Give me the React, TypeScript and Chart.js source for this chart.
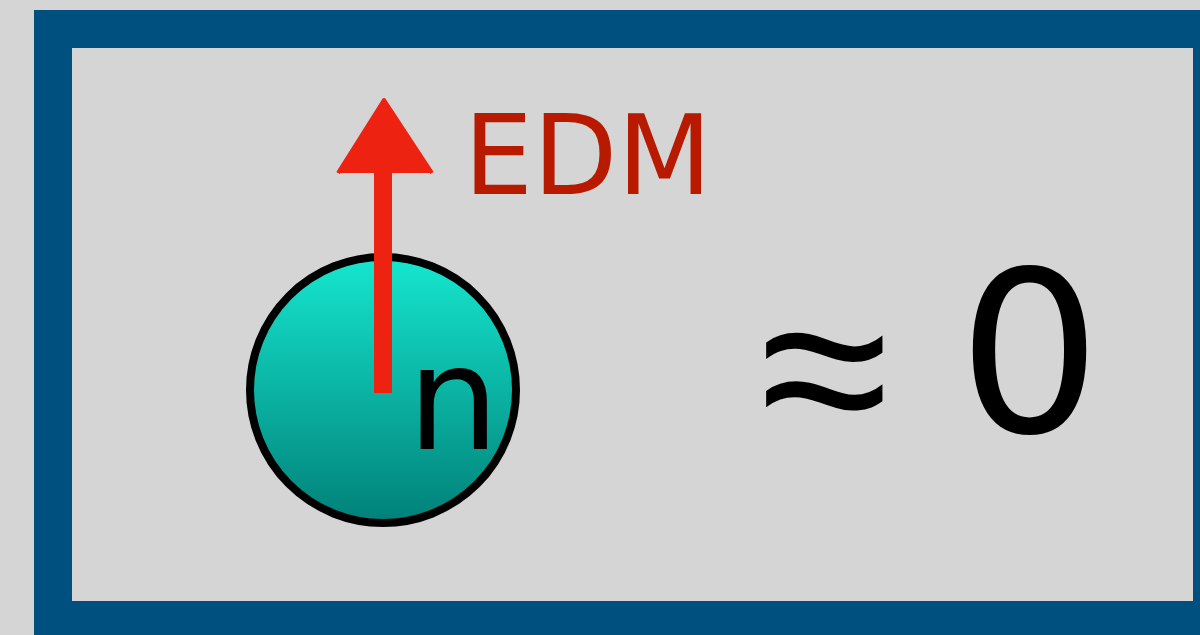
import React, { useEffect, useRef } from "react";
import { Chart, registerables } from "chart.js";

Chart.register(...registerables);

// Frame (rough blue rectangle), in canvas units (x right, y down)
const frameX = [600, 1212, 1212, 53, 53, 600];
const frameY = [29, 29, 620, 620, 29, 29];

// Neutron sphere
const sphereX = [383];
const sphereY = [390];

// EDM arrow shaft and head
const shaftX = [383, 383];
const shaftY = [393, 166];
const headX = [338, 384, 432];
const headY = [173, 100, 173];

// Text labels (ink-box centres and ink heights)
const labelTexts = ["EDM", "n", "≈", "0"];
const labelX = [587.5, 454, 824, 1029.5];
const labelY = [153, 408.5, 371, 349.5];
const labelH = [80, 81, 80, 171];

const BG = "#d5d5d5";

export default function App() {
  const ref = useRef<HTMLCanvasElement | null>(null);

  useEffect(() => {
    document.body.style.margin = "0";
    const canvas = ref.current;
    if (!canvas) return;

    const labelStyles = [
      { family: "'DejaVu Sans'", color: "#b81a00" },
      { family: "'DejaVu Sans'", color: "#000000" },
      { family: "'Liberation Sans'", color: "#000000" },
      { family: "'DejaVu Sans'", color: "#000000" },
    ];

    const textPlugin = {
      id: "labels",
      afterDatasetsDraw(chart: any) {
        const { ctx, scales } = chart;
        ctx.save();
        ctx.textAlign = "left";
        ctx.textBaseline = "alphabetic";
        labelTexts.forEach((t, i) => {
          const st = labelStyles[i];
          ctx.font = `100px ${st.family}`;
          let m = ctx.measureText(t);
          const h0 = m.actualBoundingBoxAscent + m.actualBoundingBoxDescent;
          const y0 = scales.y.getPixelForValue(labelY[i] - labelH[i] / 2);
          const y1 = scales.y.getPixelForValue(labelY[i] + labelH[i] / 2);
          const size = (100 * Math.abs(y1 - y0)) / (h0 || 1);
          ctx.font = `${size}px ${st.family}`;
          m = ctx.measureText(t);
          const cx = scales.x.getPixelForValue(labelX[i]);
          const cy = scales.y.getPixelForValue(labelY[i]);
          const x = cx - (m.actualBoundingBoxRight - m.actualBoundingBoxLeft) / 2;
          const y = cy + (m.actualBoundingBoxAscent - m.actualBoundingBoxDescent) / 2;
          ctx.fillStyle = st.color;
          ctx.fillText(t, x, y);
        });
        ctx.restore();
      },
    };

    const bgPlugin = {
      id: "bg",
      beforeDraw(chart: any) {
        const { ctx, width, height } = chart;
        ctx.save();
        ctx.fillStyle = BG;
        ctx.fillRect(0, 0, width, height);
        ctx.restore();
      },
    };

    const sphereFill = (c: any) => {
      const chart = c.chart;
      const area = chart.chartArea;
      if (!area) return "#0bb5a5";
      const toPx = (v: number) => area.top + (v / 635) * (area.bottom - area.top);
      const top = toPx(sphereY[0] - 137);
      const bot = toPx(sphereY[0] + 137);
      if (!isFinite(top) || !isFinite(bot)) return "#0bb5a5";
      const g = chart.ctx.createLinearGradient(0, top, 0, bot);
      g.addColorStop(0, "#16e8d0");
      g.addColorStop(1, "#007f77");
      return g;
    };

    const chart = new Chart(canvas, {
      type: "scatter",
      data: {
        datasets: [
          {
            data: frameX.map((x, i) => ({ x, y: frameY[i] })),
            showLine: true,
            borderColor: "#00507f",
            borderWidth: 38,
            borderJoinStyle: "miter",
            pointRadius: 0,
            fill: false,
            clip: false,
            order: 5,
          } as any,
          {
            data: sphereX.map((x, i) => ({ x, y: sphereY[i] })),
            pointRadius: 133,
            pointBorderWidth: 8,
            pointBorderColor: "#000000",
            pointBackgroundColor: sphereFill,
            borderColor: "#000000",
            clip: false,
            order: 2,
          } as any,
          {
            data: shaftX.map((x, i) => ({ x, y: shaftY[i] })),
            showLine: true,
            borderColor: "#ee2211",
            borderWidth: 18,
            borderCapStyle: "butt",
            pointRadius: 0,
            fill: false,
            clip: false,
            order: 1,
          } as any,
          {
            data: headX.map((x, i) => ({ x, y: headY[i] })),
            showLine: true,
            borderColor: "#ee2211",
            backgroundColor: "#ee2211",
            borderWidth: 4,
            borderJoinStyle: "round",
            pointRadius: 0,
            fill: { value: headY[0] },
            clip: false,
            order: 0,
          } as any,
        ],
      },
      options: {
        animation: false,
        responsive: true,
        maintainAspectRatio: false,
        events: [],
        layout: { padding: 0, autoPadding: false },
        plugins: { legend: { display: false }, tooltip: { enabled: false } },
        scales: {
          x: { type: "linear", min: 0, max: 1200, display: false },
          y: { type: "linear", min: 0, max: 635, reverse: true, display: false },
        },
      },
      plugins: [bgPlugin, textPlugin],
    });

    return () => chart.destroy();
  }, []);

  return (
    <div style={{ position: "fixed", left: 0, top: 0, width: 1200, height: 635, background: BG }}>
      <canvas ref={ref} />
    </div>
  );
}
